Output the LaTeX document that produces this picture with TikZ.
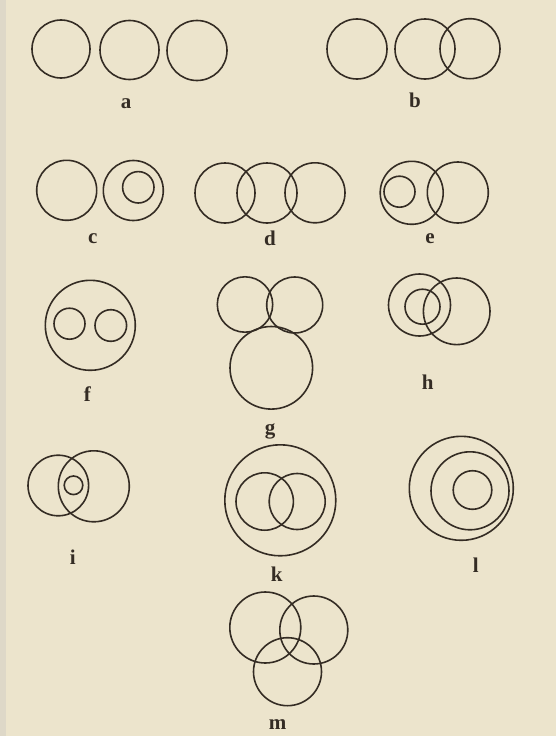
\documentclass[tikz,border=0pt]{standalone}
\usepackage{fontspec}
\setmainfont{Liberation Serif}
\usepackage{xcolor}
\definecolor{paper}{RGB}{236,228,204}
\definecolor{ink}{RGB}{52,44,36}
\begin{document}
\begin{tikzpicture}[x=1pt,y=-1pt,
  ring/.style={circle,draw=ink,line width=1.6pt,inner sep=0pt,minimum size=#1*2pt},
  lbl/.style={text=ink,font=\fontsize{21}{21}\selectfont\bfseries,inner sep=0pt}]
\fill[paper] (0,0) rectangle (556,736);
\useasboundingbox (0,0) rectangle (556,736);
\fill[black!25,opacity=0.3] (0,0) rectangle (6,736);
% a
\node[ring=29] (a1) at (61,49) {};
\node[ring=29.5] (a2) at (129.5,50) {};
\node[ring=30] (a3) at (197,50.5) {};
\node[lbl] (la) at (126,104) {a};
% b
\node[ring=30] (b1) at (357,49) {};
\node[ring=30] (b2) at (425,49) {};
\node[ring=30] (b3) at (470,48.7) {};
\node[lbl] (lb) at (415,100) {b};
% c
\node[ring=30] (c1) at (66.7,190.3) {};
\node[ring=30] (c2) at (133.3,190.5) {};
\node[ring=15.7] (c3) at (138.3,187.3) {};
\node[lbl] (lc) at (92.7,239) {c};
% d
\node[ring=30] (d1) at (225,193) {};
\node[ring=30] (d2) at (267,193) {};
\node[ring=30] (d3) at (315,192.8) {};
\node[lbl] (ld) at (270,238) {d};
% e
\node[ring=31.5] (e1) at (411.7,192.8) {};
\node[ring=15.5] (e2) at (399.5,191.7) {};
\node[ring=30.5] (e3) at (457.8,192.5) {};
\node[lbl] (le) at (430,239) {e};
% f
\node[ring=45] (f1) at (90.3,325.3) {};
\node[ring=15.5] (f2) at (69.5,323.7) {};
\node[ring=15.8] (f3) at (110.8,325.5) {};
\node[lbl] (lf) at (87.3,394) {f};
% g
\node[ring=27.7] (g1) at (245,304.5) {};
\node[ring=28] (g2) at (294.7,305) {};
\node[ring=41.3] (g3) at (271.3,367.8) {};
\node[lbl] (lg) at (270,431) {g};
% h
\node[ring=31] (h1) at (419.5,305) {};
\node[ring=17.5] (h2) at (422.5,306.7) {};
\node[ring=33.3] (h3) at (456.7,311.3) {};
\node[lbl] (lh) at (427.7,382) {h};
% i
\node[ring=30.3] (i1) at (58.3,485.5) {};
\node[ring=35.5] (i2) at (93.8,486.3) {};
\node[ring=9.3] (i3) at (73.5,485.3) {};
\node[lbl] (li) at (72.7,557) {i};
% k
\node[ring=55.5] (k1) at (280.3,500.3) {};
\node[ring=28.7] (k2) at (264.7,501.5) {};
\node[ring=28] (k3) at (297.2,501.5) {};
\node[lbl] (lk) at (276.7,574) {k};
% l
\node[ring=52] (l1) at (461.3,488.3) {};
\node[ring=39] (l2) at (470,490.8) {};
\node[ring=19.3] (l3) at (472.5,490) {};
\node[lbl] (ll) at (475.7,565.5) {l};
% m
\node[ring=35.5] (m1) at (265.3,627.5) {};
\node[ring=34] (m2) at (313.8,630) {};
\node[ring=34] (m3) at (287.5,671.7) {};
\node[lbl] (lm) at (277.7,725) {m};
\end{tikzpicture}
\end{document}
